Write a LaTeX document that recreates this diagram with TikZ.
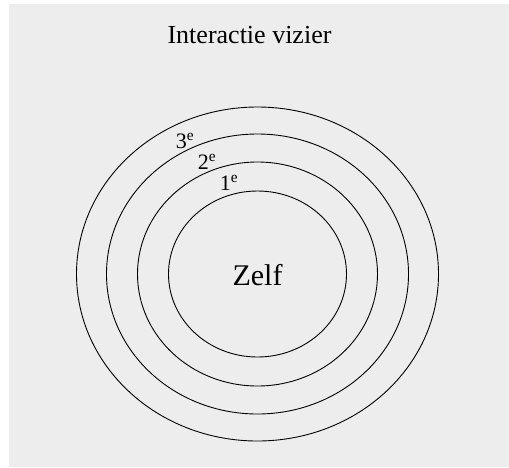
\documentclass[tikz,border=0pt]{standalone}
\usepackage{fontspec}
\setmainfont{Liberation Serif}
\definecolor{panel}{HTML}{EDEDED}

\begin{document}
\begin{tikzpicture}[x=1pt, y=-1pt,
	ring/.style={line width=0.9},
	rank/.style={anchor=base, font=\fontsize{22}{25}\selectfont}]
	\fill[white] (0, 0) rectangle (509, 467);
	\fill[panel] (9, 4) rectangle (509, 467);
	\useasboundingbox (0, 0) rectangle (509, 467);

	% rings round the self
	\foreach \rx/\ry in {181/167, 151/140, 120/112, 89/83}
		\draw[ring] (257.5, 274) ellipse ({\rx} and {\ry});

	\node[anchor=base, font=\fontsize{26}{30}\selectfont] (title) at (249.5, 43) {Interactie vizier};
	\node[anchor=base, font=\fontsize{30}{36}\selectfont] (zelf) at (257.5, 285) {Zelf};

	\node[rank] (third) at (185, 148) {3\textsuperscript{e}};
	\node[rank] (second) at (207, 169) {2\textsuperscript{e}};
	\node[rank] (first) at (229, 190) {1\textsuperscript{e}};
\end{tikzpicture}
\end{document}
